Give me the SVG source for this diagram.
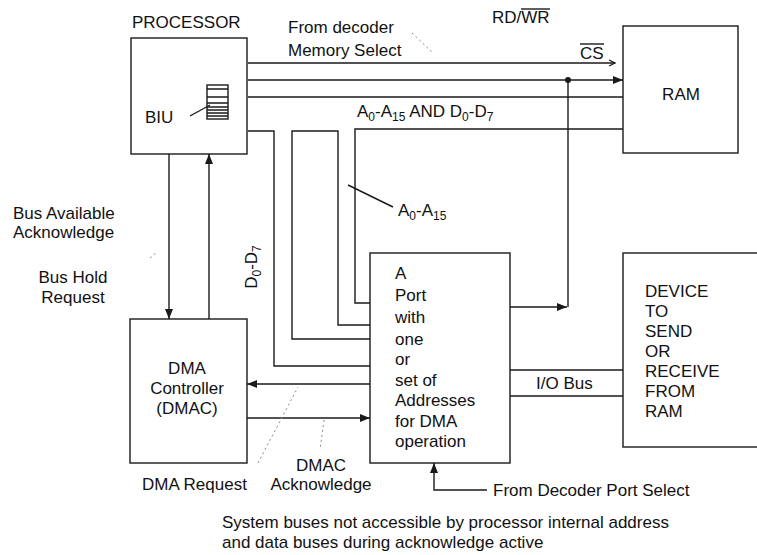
<svg xmlns="http://www.w3.org/2000/svg" width="757" height="555" viewBox="0 0 757 555">
<defs>
<style>
.b{fill:none;stroke:#1a1a1a;stroke-width:1.4}
.ln{fill:none;stroke:#1a1a1a;stroke-width:1.4}
.lead{fill:none;stroke:#8a8a8a;stroke-width:1;stroke-dasharray:2 3}
.t{font-family:"Liberation Sans",Arial,Helvetica,sans-serif;font-size:17px;fill:#111}
.m{text-anchor:middle}
.s{font-size:12px}
</style>
<marker id="ar" markerWidth="10" markerHeight="8" refX="10" refY="4" orient="auto" markerUnits="userSpaceOnUse"><path d="M0,0 L10,4 L0,8 z" fill="#1a1a1a"/></marker>
<marker id="op" markerWidth="8" markerHeight="8" refX="7" refY="4" orient="auto" markerUnits="userSpaceOnUse"><path d="M1,1 L7,4 L1,7" fill="none" stroke="#1a1a1a" stroke-width="1.2"/></marker>
</defs>
<rect width="757" height="555" fill="#fff"/>

<g id="connectors">
<path class="ln" d="M248,63 H615" marker-end="url(#op)"/>
<path class="ln" d="M248,80 H623" marker-end="url(#ar)"/>
<circle cx="568" cy="80" r="3" fill="#1a1a1a"/>
<path class="ln" d="M248,97 H623"/>
<path class="ln" d="M623,129 H355 V303 H370"/>
<path class="ln" d="M248,131 H274 V366 H370"/>
<path class="ln" d="M370,339 H292 V131 H338 V325 H370"/>
<path class="ln" d="M568,80 V307"/>
<path class="ln" d="M510,307 H567" marker-end="url(#ar)"/>
<path class="ln" d="M169,154 V319" marker-end="url(#ar)"/>
<path class="ln" d="M209,319 V154" marker-end="url(#ar)"/>
<path class="ln" d="M370,384 H247" marker-end="url(#ar)"/>
<path class="ln" d="M247,418 H370" marker-end="url(#ar)"/>
<path class="ln" d="M510,370 H623 M510,396 H623"/>
<path class="ln" d="M487,490 H434 V463" marker-end="url(#ar)"/>
<path class="ln" d="M348,185 L393,207"/>
<path class="lead" d="M412,33 L433,53"/>
<path class="lead" d="M150,258 L157,252"/>
<path class="lead" d="M258,463 L298,387"/>
<path class="lead" d="M324,420 L320,450"/>
</g>

<g id="processor">
<rect class="b" x="131" y="38" width="116" height="116"/>
<text class="t" x="132" y="28">PROCESSOR</text>
<text class="t" x="145" y="123">BIU</text>
<path class="ln" d="M190,116 L210,105"/>
<rect class="b" x="207" y="85" width="21" height="34" stroke-width="1"/>
<path class="ln" stroke-width="1" d="M207,89 H228 M207,97 H228 M207,103 H228 M207,107 H228 M207,110 H228 M207,113 H228 M207,116 H228"/>
</g>

<g id="ram">
<rect class="b" x="623" y="26" width="115" height="127"/>
<text class="t m" x="681" y="100">RAM</text>
</g>

<g id="port">
<rect class="b" x="370" y="253" width="140" height="210"/>
<text class="t" x="395" y="279">A</text>
<text class="t" x="395" y="301">Port</text>
<text class="t" x="395" y="323">with</text>
<text class="t" x="395" y="345">one</text>
<text class="t" x="395" y="365">or</text>
<text class="t" x="395" y="386">set of</text>
<text class="t" x="395" y="406">Addresses</text>
<text class="t" x="395" y="427">for DMA</text>
<text class="t" x="395" y="447">operation</text>
</g>

<g id="dmac">
<rect class="b" x="130" y="319" width="117" height="144"/>
<text class="t m" x="187" y="374">DMA</text>
<text class="t m" x="187" y="394">Controller</text>
<text class="t m" x="187" y="414">(DMAC)</text>
</g>

<g id="device">
<rect class="b" x="623" y="253" width="150" height="194"/>
<text class="t" x="645" y="297">DEVICE</text>
<text class="t" x="645" y="317">TO</text>
<text class="t" x="645" y="337">SEND</text>
<text class="t" x="645" y="357">OR</text>
<text class="t" x="645" y="377">RECEIVE</text>
<text class="t" x="645" y="397">FROM</text>
<text class="t" x="645" y="417">RAM</text>
</g>

<g id="labels">
<text class="t" x="288" y="33">From decoder</text>
<text class="t" x="288" y="56">Memory Select</text>
<text class="t" x="492" y="23">RD/WR</text>
<path class="ln" stroke-width="1.2" d="M521,9 H550"/>
<text class="t" x="580" y="59">CS</text>
<path class="ln" stroke-width="1.2" d="M580,44 H604"/>
<text class="t" x="357" y="117">A<tspan class="s" dy="4">0</tspan><tspan dy="-4">-A</tspan><tspan class="s" dy="4">15</tspan><tspan dy="-4"> AND D</tspan><tspan class="s" dy="4">0</tspan><tspan dy="-4">-D</tspan><tspan class="s" dy="4">7</tspan></text>
<text class="t" x="398" y="216">A<tspan class="s" dy="4">0</tspan><tspan dy="-4">-A</tspan><tspan class="s" dy="4">15</tspan></text>
<text class="t m" transform="rotate(-90 257 267)" x="257" y="267">D<tspan class="s" dy="4">0</tspan><tspan dy="-4">-D</tspan><tspan class="s" dy="4">7</tspan></text>
<text class="t" x="13" y="219">Bus Available</text>
<text class="t" x="13" y="238">Acknowledge</text>
<text class="t m" x="73" y="283">Bus Hold</text>
<text class="t m" x="73" y="303">Request</text>
<text class="t" x="536" y="389">I/O Bus</text>
<text class="t" x="142" y="490">DMA Request</text>
<text class="t m" x="321" y="471">DMAC</text>
<text class="t m" x="321" y="490">Acknowledge</text>
<text class="t" x="493" y="496">From Decoder Port Select</text>
<text class="t" x="222" y="528">System buses not accessible by processor internal address</text>
<text class="t" x="222" y="548">and data buses during acknowledge active</text>
</g>
</svg>
